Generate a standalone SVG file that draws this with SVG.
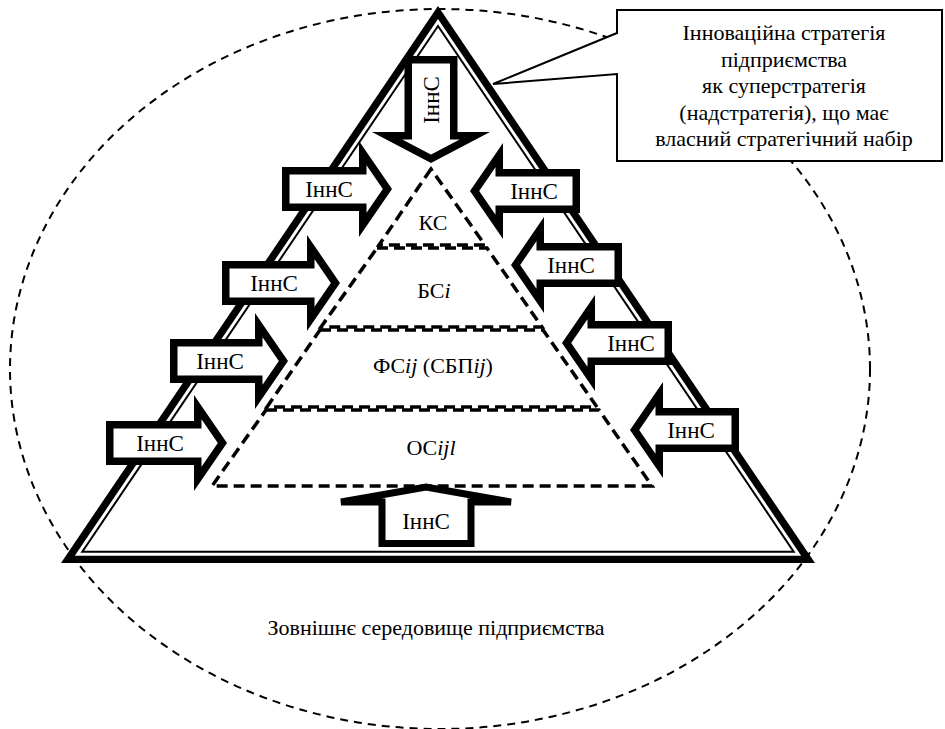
<svg xmlns="http://www.w3.org/2000/svg" width="945" height="729" viewBox="0 0 945 729">
<rect width="945" height="729" fill="#fff"/>
<g id="environment">
<ellipse cx="440" cy="369" rx="430" ry="360" fill="none" stroke="#000" stroke-width="2" stroke-dasharray="8 6"/>
<text font-family="Times New Roman" font-size="22" text-anchor="middle" x="436" y="635">Зовнішнє середовище підприємства</text>
</g>
<g id="pyramid">
<polygon points="438,6 61,563 815,563" fill="#000"/>
<polygon points="438,19 74.8,555.7 801.2,555.7" fill="#fff"/>
<polygon points="438,26 82.3,551.7 793.7,551.7" fill="none" stroke="#000" stroke-width="2"/>
</g>
<g id="levels" fill="none" stroke="#000" stroke-width="3.5" stroke-dasharray="11 6">
<g id="level-ks">
<polygon points="431,169 379,245 485,245"/>
<text font-family="Times New Roman" font-size="22" text-anchor="middle" fill="#000" stroke="none" x="433" y="230">КС</text>
</g>
<g id="level-bs">
<polygon points="377,248 487,248 542,327 321,327"/>
<text font-family="Times New Roman" font-size="22" text-anchor="middle" fill="#000" stroke="none" x="434" y="298">БС<tspan font-style="italic">i</tspan></text>
</g>
<g id="level-fs">
<polygon points="320,330 543,330 597,407 267,407"/>
<text font-family="Times New Roman" font-size="22" text-anchor="middle" fill="#000" stroke="none" x="433" y="373">ФС<tspan font-style="italic">ij</tspan> (СБП<tspan font-style="italic">ij</tspan>)</text>
</g>
<g id="level-os">
<polygon points="266,410 599,410 652,486 212,486"/>
<text font-family="Times New Roman" font-size="22" text-anchor="middle" fill="#000" stroke="none" x="431" y="455">ОС<tspan font-style="italic">ijl</tspan></text>
</g>
</g>
<g id="arrows" fill="#fff" stroke="#000" stroke-width="7.5" stroke-miterlimit="10" stroke-linejoin="miter">
<g id="arrow-top">
<path d="M408.25,59.75 L408.25,135.75 L387.2,135.75 L431,158.76 L474.8,135.75 L453.75,135.75 L453.75,59.75 Z"/>
<text font-family="Times New Roman" font-size="23" text-anchor="middle" fill="#000" stroke="none" transform="translate(438.5,100) rotate(-90)">ІннС</text>
</g>
<g id="arrow-l1">
<path d="M285.75,170.75 L362.75,170.75 L362.75,153.1 L387.45,189 L362.75,224.9 L362.75,207.25 L285.75,207.25 Z"/>
<text font-family="Times New Roman" font-size="23" text-anchor="middle" fill="#000" stroke="none" x="329" y="197">ІннС</text>
</g>
<g id="arrow-l2">
<path d="M225.75,264.75 L310.75,264.75 L310.75,247.1 L335.45,283 L310.75,318.9 L310.75,301.25 L225.75,301.25 Z"/>
<text font-family="Times New Roman" font-size="23" text-anchor="middle" fill="#000" stroke="none" x="274" y="291">ІннС</text>
</g>
<g id="arrow-l3">
<path d="M173.75,342.75 L258.75,342.75 L258.75,325.1 L283.45,361 L258.75,396.9 L258.75,379.25 L173.75,379.25 Z"/>
<text font-family="Times New Roman" font-size="23" text-anchor="middle" fill="#000" stroke="none" x="220" y="369">ІннС</text>
</g>
<g id="arrow-l4">
<path d="M109.75,424.75 L197.75,424.75 L197.75,407.1 L222.45,443 L197.75,478.9 L197.75,461.25 L109.75,461.25 Z"/>
<text font-family="Times New Roman" font-size="23" text-anchor="middle" fill="#000" stroke="none" x="160" y="451">ІннС</text>
</g>
<g id="arrow-r1">
<path d="M576.25,172.75 L499.25,172.75 L499.25,155.1 L474.55,191 L499.25,226.9 L499.25,209.25 L576.25,209.25 Z"/>
<text font-family="Times New Roman" font-size="23" text-anchor="middle" fill="#000" stroke="none" x="534" y="199">ІннС</text>
</g>
<g id="arrow-r2">
<path d="M618.25,246.75 L540.25,246.75 L540.25,229.1 L515.55,265 L540.25,300.9 L540.25,283.25 L618.25,283.25 Z"/>
<text font-family="Times New Roman" font-size="23" text-anchor="middle" fill="#000" stroke="none" x="571" y="273">ІннС</text>
</g>
<g id="arrow-r3">
<path d="M668.25,324.75 L591.25,324.75 L591.25,307.1 L566.55,343 L591.25,378.9 L591.25,361.25 L668.25,361.25 Z"/>
<text font-family="Times New Roman" font-size="23" text-anchor="middle" fill="#000" stroke="none" x="631" y="351">ІннС</text>
</g>
<g id="arrow-r4">
<path d="M735.25,411.75 L659.25,411.75 L659.25,394.1 L634.55,430 L659.25,465.9 L659.25,448.25 L735.25,448.25 Z"/>
<text font-family="Times New Roman" font-size="23" text-anchor="middle" fill="#000" stroke="none" x="691" y="438">ІннС</text>
</g>
<g id="arrow-bottom">
<path stroke-width="7" stroke-miterlimit="4" d="M382,502 L341,502 L426,487 L511,502 L471,502 L471,543.5 L382,543.5 Z"/>
<text font-family="Times New Roman" font-size="23" text-anchor="middle" fill="#000" stroke="none" x="426" y="529">ІннС</text>
</g>
</g>
<g id="callout">
<path d="M617,74 L617,161 L942,161 L942,10 L617,10 L617,33 L493,84 Z" fill="#fff" stroke="#000" stroke-width="2"/>
<text font-family="Times New Roman" font-size="22" text-anchor="middle" x="784" y="40">Інноваційна стратегія</text>
<text font-family="Times New Roman" font-size="22" text-anchor="middle" x="784" y="66.5">підприємства</text>
<text font-family="Times New Roman" font-size="22" text-anchor="middle" x="784" y="93">як суперстратегія</text>
<text font-family="Times New Roman" font-size="22" text-anchor="middle" x="784" y="119.5">(надстратегія), що має</text>
<text font-family="Times New Roman" font-size="22" text-anchor="middle" x="784" y="146">власний стратегічний набір</text>
</g>
</svg>
